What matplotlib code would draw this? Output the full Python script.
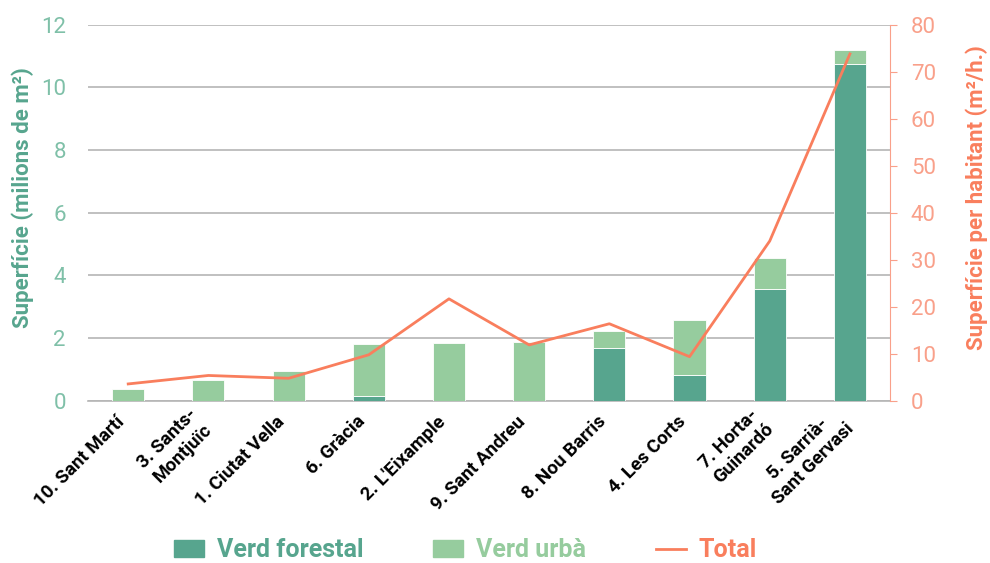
import matplotlib.pyplot as plt
import numpy as np
from matplotlib.patches import Patch
from matplotlib.lines import Line2D

plt.rcParams['font.family'] = ['Roboto', 'DejaVu Sans']

districtes = ["10. Sant Martí", "3. Sants-\nMontjuïc", "1. Ciutat Vella", "6. Gràcia",
              "2. L'Eixample", "9. Sant Andreu", "8. Nou Barris", "4. Les Corts",
              "7. Horta-\nGuinardó", "5. Sarrià-\nSant Gervasi"]
verd_forestal = [0.0, 0.0, 0.0, 0.17, 0.0, 0.0, 1.69, 0.83, 3.57, 10.76]
verd_urba = [0.38, 0.67, 0.96, 1.65, 1.85, 1.88, 0.54, 1.76, 0.99, 0.44]
total_hab = [3.6, 5.4, 4.8, 9.8, 21.7, 11.9, 16.4, 9.4, 34.0, 73.8]

c_forest = "#57a58e"
c_urba = "#96cc9e"
c_total = "#f97e5d"
c_right = "#f9a08a"

fig = plt.figure(figsize=(9.9, 5.63), dpi=100)
ax = fig.add_axes([0.089, 0.288, 0.81, 0.668])
x = np.arange(len(districtes))

ax.bar(x, verd_forestal, width=0.4, color=c_forest, edgecolor="white", linewidth=0.6, zorder=3)
ax.bar(x, verd_urba, width=0.4, bottom=verd_forestal, color=c_urba, edgecolor="white", linewidth=0.6, zorder=3)

ax.set_xlim(-0.5, 9.5)
ax.set_ylim(0, 12)
ax.set_yticks(range(0, 13, 2))
ax.yaxis.grid(True, color="#b5b5b5", linewidth=1.2, zorder=0)
ax.set_axisbelow(True)
for s in ["top", "left", "right"]:
    ax.spines[s].set_visible(False)
ax.spines["bottom"].set_color("#b5b5b5")
ax.spines["bottom"].set_linewidth(1.2)
ax.tick_params(axis="y", length=0, pad=16, labelsize=16, labelcolor="#7fc0a8")
ax.tick_params(axis="x", length=0, pad=13)
ax.set_xticks(x - 0.08)
ax.set_xticklabels(districtes, rotation=45, ha="right", va="center", rotation_mode="anchor",
                   fontsize=13.5, fontweight="bold", multialignment="center")
ax.set_ylabel("Superfície (milions de m²)", fontsize=16, fontweight="bold", color=c_forest,
              labelpad=5, y=0.54)

ax2 = ax.twinx()
ax2.plot(x, total_hab, color=c_total, linewidth=2, zorder=4)
ax2.set_ylim(0, 80)
ax2.set_yticks(range(0, 81, 10))
for s in ["top", "left", "bottom"]:
    ax2.spines[s].set_visible(False)
ax2.spines["right"].set_color(c_right)
ax2.tick_params(axis="y", colors=c_right, labelsize=16, length=5, pad=10)
ax2.set_ylabel("Superfície per habitant (m²/h.)", fontsize=16, fontweight="bold", color=c_total,
               labelpad=21, y=0.54)

handles = [Patch(color=c_forest), Patch(color=c_urba), Line2D([0], [0], color=c_total, linewidth=2)]
leg = fig.legend(handles, ["Verd forestal", "Verd urbà", "Total"], loc="lower center",
                 bbox_to_anchor=(0.47, -0.03), ncol=3, frameon=False, handlelength=1.2,
                 handleheight=0.7, columnspacing=2.8, handletextpad=0.5, borderpad=0.2,
                 prop={"size": 18, "weight": "bold"})
for t, c in zip(leg.get_texts(), [c_forest, c_urba, c_total]):
    t.set_color(c)

fig.savefig("out.png", dpi=100)
